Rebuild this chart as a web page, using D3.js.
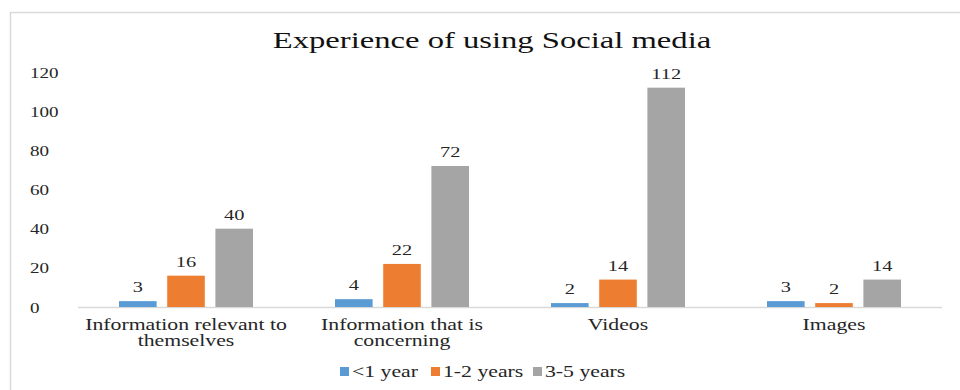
<!DOCTYPE html>
<html>
<head>
<meta charset="utf-8">
<script src="https://cdn.jsdelivr.net/npm/d3@7/dist/d3.min.js"></script>
<style>
  html, body { margin: 0; padding: 0; background: #fff; }
  svg { display: block; }
  svg text { font-family: "Liberation Serif", "Times New Roman", serif !important; fill: #262626; }
</style>
</head>
<body>
<svg id="chart" width="960" height="390"></svg>
<script>
// Categories and series
const categories = [
  ["Information relevant to", "themselves"],
  ["Information that is", "concerning"],
  ["Videos"],
  ["Images"]
];
const seriesNames = ["<1 year", "1-2 years", "3-5 years"];
const lessThan1Year = [3, 4, 2, 3];
const oneToTwoYears = [16, 22, 14, 2];
const threeToFiveYears = [40, 72, 112, 14];
const yTicks = [0, 20, 40, 60, 80, 100, 120];
const colors = ["#5B9BD5", "#ED7D31", "#A5A5A5"];

const seriesValues = [lessThan1Year, oneToTwoYears, threeToFiveYears];
const catKeys = categories.map(c => c.join(" "));

const svg = d3.select("#chart");
const W = 960, H = 390;
const margin = { left: 78, right: 18, top: 72, bottom: 83 };
const stretch = 1.36; // wide serif lettering

// Place a text at (x, y) with horizontal stretch about its anchor
function placeText(sel, x, y) {
  return sel.attr("transform", `translate(${x},${y}) scale(${stretch},1)`);
}

// Outer frame (top and left edges visible)
svg.append("line").attr("x1", 10).attr("x2", W).attr("y1", 12.5).attr("y2", 12.5)
  .attr("stroke", "#d9d9d9").attr("stroke-width", 1.5);
svg.append("line").attr("x1", 10.5).attr("x2", 10.5).attr("y1", 12).attr("y2", H)
  .attr("stroke", "#d9d9d9").attr("stroke-width", 1.5);

const x0 = d3.scaleBand().domain(catKeys).range([margin.left, W - margin.right]).padding(0);
const groupW = 134;
const x1 = d3.scaleBand().domain(seriesNames).range([0, groupW]).paddingInner(0.22).paddingOuter(0);
const y = d3.scaleLinear().domain([0, 120]).range([H - margin.bottom, margin.top]);

// Title
placeText(svg.append("text"), 492, 48)
  .attr("text-anchor", "middle")
  .style("font-size", "24px")
  .style("fill", "#111")
  .text("Experience of using Social media");

// Y axis tick labels
const yAxis = d3.axisLeft(y).tickValues(yTicks).tickSize(0).tickPadding(0);
const yg = svg.append("g").attr("transform", "translate(30,0)").call(yAxis)
  .attr("font-family", null).attr("font-size", null);
yg.select(".domain").remove();
yg.selectAll(".tick text")
  .attr("text-anchor", "start")
  .attr("x", 0).attr("dy", null).attr("y", 5)
  .attr("transform", `scale(${stretch},1)`)
  .style("font-size", "14px")
  .style("fill", "#262626");

// Baseline
svg.append("line")
  .attr("x1", margin.left).attr("x2", W - margin.right)
  .attr("y1", y(0) + 0.5).attr("y2", y(0) + 0.5)
  .attr("stroke", "#d9d9d9").attr("stroke-width", 1.5);

// Bars with value labels
const groups = svg.append("g").selectAll("g")
  .data(catKeys)
  .join("g")
  .attr("transform", d => `translate(${x0(d) + (x0.bandwidth() - groupW) / 2},0)`);

groups.each(function(cat, ci) {
  const g = d3.select(this);
  seriesNames.forEach((s, si) => {
    const v = seriesValues[si][ci];
    g.append("rect")
      .attr("x", x1(s))
      .attr("width", x1.bandwidth())
      .attr("y", y(v))
      .attr("height", y(0) - y(v))
      .attr("fill", colors[si]);
    placeText(g.append("text"), x1(s) + x1.bandwidth() / 2, y(v) - 9)
      .attr("text-anchor", "middle")
      .style("font-size", "15px")
      .text(v);
  });
});

// Category labels
svg.append("g").selectAll("text")
  .data(categories)
  .join("text")
  .each(function(lines, i) {
    const t = placeText(d3.select(this), x0(catKeys[i]) + x0.bandwidth() / 2, 330)
      .attr("text-anchor", "middle")
      .style("font-size", "16px");
    lines.forEach((ln, li) => {
      t.append("tspan")
        .attr("x", 0)
        .attr("dy", li === 0 ? 0 : 16)
        .text(ln);
    });
  });

// Legend
const legendX = [340, 431, 533];
const legend = svg.append("g").selectAll("g")
  .data(seriesNames)
  .join("g")
  .attr("transform", (d, i) => `translate(${legendX[i]},367)`);
legend.append("rect").attr("width", 9).attr("height", 9).attr("fill", (d, i) => colors[i]);
legend.append("text")
  .attr("transform", `translate(12,10) scale(${stretch},1)`)
  .style("font-size", "16px")
  .text(d => d);
</script>
</body>
</html>
